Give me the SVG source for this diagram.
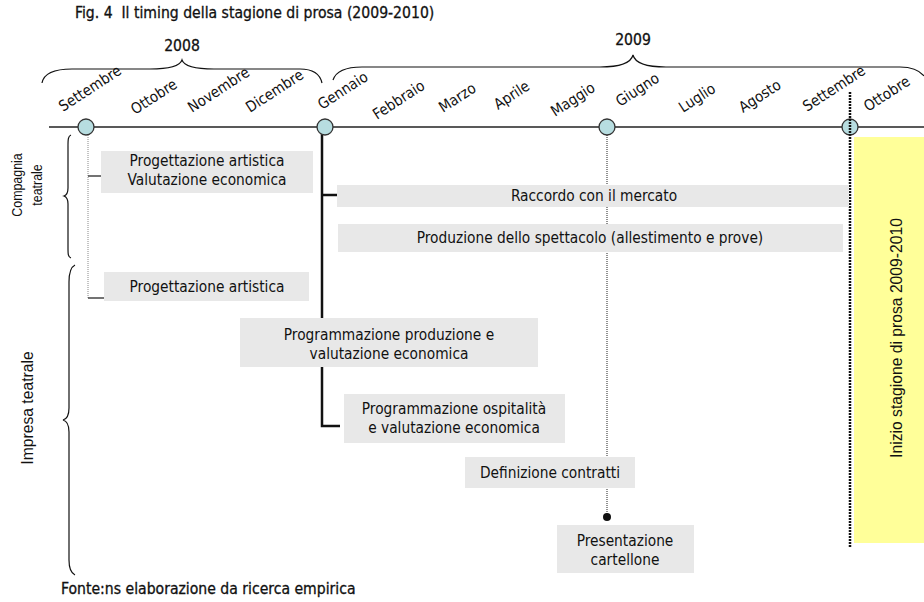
<svg xmlns="http://www.w3.org/2000/svg" width="924" height="602" viewBox="0 0 924 602">
  <style>
    .t { font-family: 'DejaVu Sans Condensed', 'DejaVu Sans', sans-serif; font-stretch: condensed; fill: #111; }
    .box { fill: #e8e8e8; }
    .bt { font-size: 15.3px; text-anchor: middle; }
    .mo { font-size: 15px; }
    .hd { font-size: 15.6px; stroke: #111; stroke-width: 0.3; }
    .ar { font-family: 'Liberation Sans', Arial, sans-serif; font-size: 15.7px; fill: #111; text-anchor: middle; }
    .ar.sm { font-size: 15.5px; }
    .brace { fill: none; stroke: #111; stroke-width: 1.2; }
    .dot { fill: #b7dde0; stroke: #333; stroke-width: 1.3; }
  </style>

  <rect width="924" height="602" fill="#fff"/>

  <!-- titles -->
  <text class="t hd" x="75" y="18" xml:space="preserve">Fig. 4  Il timing della stagione di prosa (2009-2010)</text>
  <text class="t hd" x="61" y="594">Fonte:ns elaborazione da ricerca empirica</text>

  <!-- year braces -->
  <g id="year-2008">
    <text class="t hd" x="182" y="51" text-anchor="middle">2008</text>
    <path class="brace" d="M42,83 C44,72 56,69 72,69 L150,69 C170,69 180,66 182,60 C184,66 194,69 214,69 L300,69 C312,69 320,74 322,83"/>
  </g>
  <g id="year-2009">
    <text class="t hd" x="633" y="45" text-anchor="middle">2009</text>
    <path class="brace" d="M333,80 C336,71 346,67 362,67 L600,67 C620,67 631,63 633,55 C635,63 646,67 666,67 L900,67 C914,67 920,71 924,76"/>
  </g>

  <!-- month labels -->
  <g id="months" class="t mo">
    <text transform="translate(63,112) rotate(-33)">Settembre</text>
    <text transform="translate(135,115) rotate(-33)">Ottobre</text>
    <text transform="translate(192,113) rotate(-33)">Novembre</text>
    <text transform="translate(250,113) rotate(-33)">Dicembre</text>
    <text transform="translate(322,110) rotate(-33)">Gennaio</text>
    <text transform="translate(377,120) rotate(-33)">Febbraio</text>
    <text transform="translate(443,113) rotate(-33)">Marzo</text>
    <text transform="translate(498,110) rotate(-33)">Aprile</text>
    <text transform="translate(555,117) rotate(-33)">Maggio</text>
    <text transform="translate(620,107) rotate(-33)">Giugno</text>
    <text transform="translate(683,113) rotate(-33)">Luglio</text>
    <text transform="translate(743,113) rotate(-33)">Agosto</text>
    <text transform="translate(807,112) rotate(-33)">Settembre</text>
    <text transform="translate(868,112) rotate(-33)">Ottobre</text>
  </g>

  <!-- side groups -->
  <g id="compagnia">
    <text class="ar sm" transform="translate(22,185) rotate(-90) scale(0.8,1)">Compagnia</text>
    <text class="ar sm" transform="translate(42,185) rotate(-90) scale(0.8,1)">teatrale</text>
    <path class="brace" d="M71,135 C68,136 68,140 68,146 L68,188 C68,193 67,195 64,196 C67,197 68,199 68,204 L68,248 C68,254 68,257 71,258"/>
  </g>
  <g id="impresa">
    <text class="ar" transform="translate(33,408) rotate(-90)">Impresa teatrale</text>
    <path class="brace" d="M75,265 C71,267 69,272 69,282 L69,408 C69,416 67,419 63,420 C67,421 69,424 69,432 L69,560 C69,569 71,573 75,575"/>
  </g>

  <!-- yellow season-start band -->
  <g id="inizio">
    <rect x="854" y="137" width="70" height="406" fill="#ffff99"/>
    <text class="ar" transform="translate(902,338) rotate(-90)">Inizio stagione di prosa 2009-2010</text>
  </g>

  <!-- connectors -->
  <g id="connectors" fill="none">
    <line x1="49" y1="127" x2="924" y2="127" stroke="#222" stroke-width="1.5"/>
    <!-- settembre 2008 -->
    <line x1="88" y1="131" x2="88" y2="298" stroke="#888" stroke-width="1" stroke-dasharray="1,1"/>
    <line x1="88" y1="176" x2="102" y2="176" stroke="#444" stroke-width="1.5"/>
    <line x1="88" y1="298" x2="104" y2="298" stroke="#444" stroke-width="1.5"/>
    <!-- gennaio -->
    <polyline points="322,133 322,426 340,426" stroke="#111" stroke-width="2.5"/>
    <line x1="322" y1="195" x2="338" y2="195" stroke="#111" stroke-width="2.5"/>
    <!-- giugno -->
    <line x1="607" y1="135" x2="607" y2="517" stroke="#222" stroke-width="1" stroke-dasharray="1,1"/>
    <circle cx="607" cy="517" r="4" fill="#111"/>
    <!-- settembre 2009 -->
    <line x1="850" y1="92" x2="850" y2="547" stroke="#111" stroke-width="2.5" stroke-dasharray="2,1"/>
  </g>

  <!-- timeline milestones -->
  <g id="milestones">
    <circle class="dot" cx="86" cy="127" r="8"/>
    <circle class="dot" cx="325" cy="127" r="8"/>
    <circle class="dot" cx="607" cy="127" r="8"/>
    <circle class="dot" cx="850" cy="127" r="8"/>
    <line x1="850" y1="119" x2="850" y2="135" stroke="#111" stroke-width="2.5" stroke-dasharray="2,1"/>
  </g>

  <!-- activity boxes -->
  <g id="prog-val-compagnia">
    <rect class="box" x="101" y="151" width="212" height="42"/>
    <text class="t bt" x="207" y="166">Progettazione artistica</text>
    <text class="t bt" x="207" y="185">Valutazione economica</text>
  </g>
  <g id="prog-impresa">
    <rect class="box" x="104" y="272" width="205" height="29"/>
    <text class="t bt" x="207" y="292">Progettazione artistica</text>
  </g>
  <g id="raccordo">
    <rect class="box" x="337" y="185" width="512" height="22"/>
    <text class="t bt" x="594" y="201">Raccordo con il mercato</text>
  </g>
  <g id="produzione">
    <rect class="box" x="338" y="224" width="505" height="28"/>
    <text class="t bt" x="590" y="243">Produzione dello spettacolo (allestimento e prove)</text>
  </g>
  <g id="programmazione-produzione">
    <rect class="box" x="240" y="318" width="298" height="49"/>
    <text class="t bt" x="389" y="340">Programmazione produzione e</text>
    <text class="t bt" x="389" y="359">valutazione economica</text>
  </g>
  <g id="programmazione-ospitalita">
    <rect class="box" x="344" y="394" width="221" height="49"/>
    <text class="t bt" x="454" y="414">Programmazione ospitalità</text>
    <text class="t bt" x="454" y="433">e valutazione economica</text>
  </g>
  <g id="contratti">
    <rect class="box" x="465" y="457" width="170" height="31"/>
    <text class="t bt" x="550" y="478">Definizione contratti</text>
  </g>
  <g id="cartellone">
    <rect class="box" x="557" y="525" width="137" height="48"/>
    <text class="t bt" x="625" y="546">Presentazione</text>
    <text class="t bt" x="625" y="565">cartellone</text>
  </g>
</svg>
